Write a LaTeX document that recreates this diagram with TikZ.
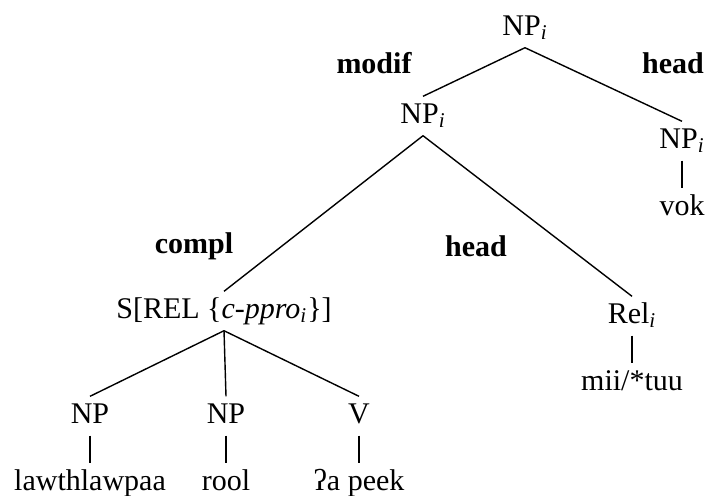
\documentclass[tikz,border=0pt]{standalone}
\usepackage{fontspec}
\setmainfont{Liberation Serif}
\usetikzlibrary{positioning}

\newcommand{\sub}[1]{\textsubscript{\textit{#1}}}

\begin{document}
\begin{tikzpicture}[-,x=0.5pt,y=-0.5pt,line width=0.7pt,node distance=33.5pt,
    cat/.style={font=\fontsize{15}{18}\selectfont,inner sep=3pt,text height=10pt,text depth=3pt},
    word/.style={cat},
    fn/.style={font=\fontsize{15}{18}\selectfont\bfseries}]
            \useasboundingbox (0,0) rectangle (710,495);

            % categories
            \node[cat] (np top) at (525,28) {NP\sub{i}};
            \node[cat] (np mod) at (423,116) {NP\sub{i}};
            \node[cat] (np head) at (682,141) {NP\sub{i}};
            \node[cat] (s rel) at (224,311) {S[REL \{\textit{c-ppro}\sub{i}\}]};
            \node[cat] (rel) at (632,316) {Rel\sub{i}};
            \node[cat] (np a) at (90,416) {NP};
            \node[cat] (np b) at (226,416) {NP};
            \node[cat] (v) at (359,416) {V};

            % words
            \node[word] (vok) [below of = np head] {vok};
            \node[word] (mii) [below of = rel] {mii/*tuu};
            \node[word] (w a) [below of = np a] {lawthlawpaa};
            \node[word] (w b) [below of = np b] {rool};
            \node[word] (w v) [below of = v] {ʔa peek};

            % functions
            \node[fn] (f modif) at (374,63) {modif};
            \node[fn] (f head1) at (673,63) {head};
            \node[fn] (f compl) at (194,246) {compl};
            \node[fn] (f head2) at (476,246) {head};

            \path
                (np top.south) edge (np mod.north)
                (np top.south) edge (np head.north)
                (np mod.south) edge (s rel.north)
                (np mod.south) edge (rel.north)
                (s rel.south) edge (np a.north)
                (s rel.south) edge (np b.north)
                (s rel.south) edge (v.north)
                (np head) edge (vok)
                (rel) edge (mii)
                (np a) edge (w a)
                (np b) edge (w b)
                (v) edge (w v)
                ;
        \end{tikzpicture}
\end{document}
